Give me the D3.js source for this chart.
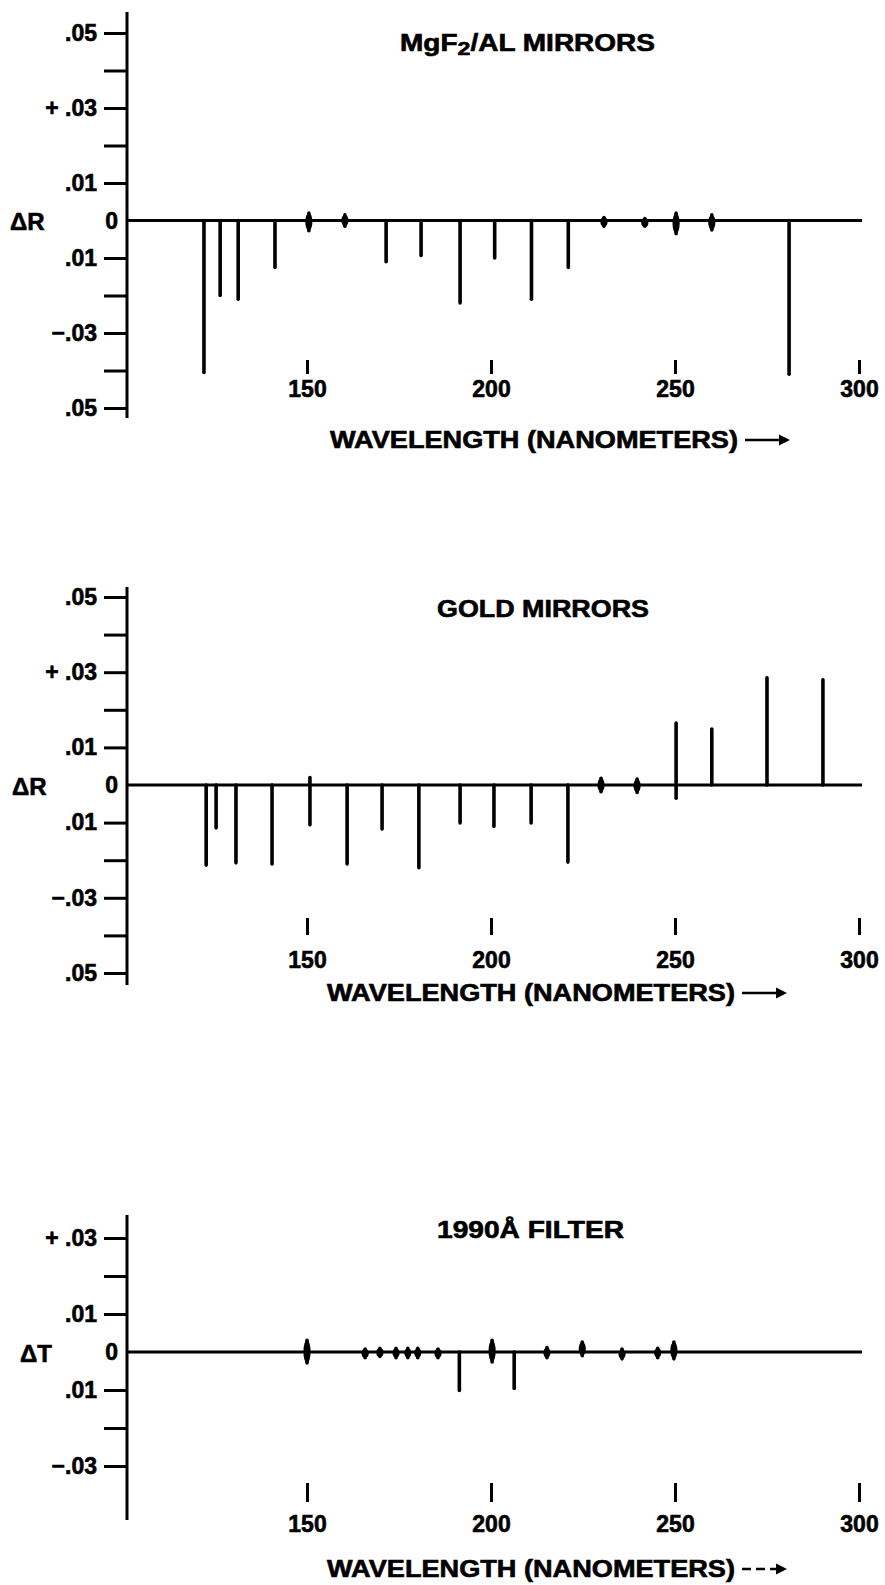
<!DOCTYPE html>
<html>
<head>
<meta charset="utf-8">
<script src="https://cdn.jsdelivr.net/npm/d3@7"></script>
<style>
  body { margin: 0; background: #fff; }
  text { font-family: "Liberation Sans", Arial, sans-serif; font-weight: bold; fill: #000; stroke: #000; stroke-width: 0.6px; }
</style>
</head>
<body>
<svg id="chart" width="885" height="1585"></svg>
<script>
/* ---------- data ---------- */
// MgF2/AL mirrors : wavelength (nm), lower and upper end of each mark (delta R)
const mgWave = [122, 126.4, 131.3, 141.3, 150.5, 160.3, 171.5, 181, 191.6, 201, 211, 221, 230.7, 241.8, 250.3, 260, 281];
const mgLow  = [-0.0405, -0.020, -0.021, -0.0125, -0.0027, -0.0015, -0.011, -0.0093, -0.022, -0.010, -0.021, -0.0125, -0.0015, -0.0015, -0.0035, -0.0025, -0.041];
const mgHigh = [0, 0, 0, 0, 0.002, 0.0015, 0, 0, 0, 0, 0, 0, 0.0008, 0.0005, 0.002, 0.0015, 0];

// gold mirrors
const goldWave = [122.6, 125.3, 130.7, 140.5, 150.8, 160.9, 170.4, 180.4, 191.6, 200.8, 210.9, 220.9, 229.9, 239.7, 250.3, 260, 275, 290.2];
const goldLow  = [-0.0213, -0.0114, -0.0207, -0.021, -0.0106, -0.021, -0.0117, -0.022, -0.0101, -0.011, -0.0101, -0.0205, -0.0018, -0.002, -0.0035, 0, 0, 0];
const goldHigh = [0, 0, 0, 0, 0.002, 0, 0, 0, 0, 0, 0, 0, 0.0018, 0.0016, 0.0165, 0.0149, 0.0285, 0.028];

// 1990A filter (delta T)
const filtWave = [150, 165.8, 169.8, 174.2, 177.4, 180.1, 185.6, 191.4, 200.3, 206.3, 215.2, 224.8, 235.6, 245.3, 249.7];
const filtLow  = [-0.0029, -0.0015, -0.0012, -0.0015, -0.0015, -0.0015, -0.0015, -0.0101, -0.0026, -0.0096, -0.0015, -0.001, -0.0018, -0.0015, -0.0018];
const filtHigh = [0.0031, 0.0008, 0.001, 0.001, 0.001, 0.001, 0.0008, 0, 0.0031, 0, 0.0012, 0.0026, 0.0008, 0.001, 0.0026];

const xTicks = [150, 200, 250, 300];
const rTicks = [0.05, 0.04, 0.03, 0.02, 0.01, -0.01, -0.02, -0.03, -0.04, -0.05];
const rTickLabels = [".05", "", "+ .03", "", ".01", ".01", "", "\u2212.03", "", ".05"];
const tTicks = [0.03, 0.02, 0.01, -0.01, -0.02, -0.03];
const tTickLabels = ["+ .03", "", ".01", ".01", "", "\u2212.03"];

/* ---------- drawing ---------- */
const svg = d3.select("#chart");
const axisX = 127;

const x = d3.scaleLinear().domain([150, 300]).range([307, 859]);

function drawPanel(p) {
  const g = svg.append("g");
  const y = d3.scaleLinear().domain([-p.lim, p.lim]).range([p.yBot, p.yTop]);

  // vertical axis line
  g.append("line")
    .attr("x1", axisX).attr("x2", axisX)
    .attr("y1", p.axisTop).attr("y2", p.axisBot)
    .attr("stroke", "#000").attr("stroke-width", 3);

  const yAxis = d3.axisLeft(y)
    .tickValues(p.ticks)
    .tickSize(23)
    .tickPadding(7)
    .tickFormat((d, i) => p.tickLabels[i]);

  g.append("g")
    .attr("transform", `translate(${axisX},0)`)
    .call(yAxis)
    .call(a => a.select(".domain").remove())
    .call(a => a.selectAll("line").attr("stroke-width", 3))
    .attr("font-size", 23)
    .attr("font-family", null);

  // "0" label and delta label
  g.append("text").attr("x", 118).attr("y", y(0)).attr("dy", "0.36em")
    .attr("text-anchor", "end").attr("font-size", 23).text("0");
  g.append("text").attr("x", p.deltaX).attr("y", y(0)).attr("dy", "0.4em")
    .attr("font-size", 24).text(p.delta);

  // zero line
  g.append("line")
    .attr("x1", axisX).attr("x2", 862)
    .attr("y1", y(0)).attr("y2", y(0))
    .attr("stroke", "#000").attr("stroke-width", 3.2);

  // wavelength ticks
  const xAxis = d3.axisBottom(x).tickValues(xTicks).tickSize(p.xTickLen).tickPadding(p.xPad);
  g.append("g")
    .attr("transform", `translate(0,${p.xTickY})`)
    .call(xAxis)
    .call(a => a.select(".domain").remove())
    .call(a => a.selectAll("line").attr("stroke-width", 3))
    .attr("font-size", 23)
    .attr("font-family", null);

  // marks
  const idx = d3.range(p.wave.length);
  g.append("g").selectAll("line")
    .data(idx)
    .join("line")
    .attr("x1", i => x(p.wave[i])).attr("x2", i => x(p.wave[i]))
    .attr("y1", i => y(p.low[i])).attr("y2", i => y(p.high[i]))
    .attr("stroke", "#000").attr("stroke-width", 3.6)
    .attr("stroke-linecap", "round");

  g.append("g").selectAll("ellipse")
    .data(idx.filter(i => p.high[i] - p.low[i] < 0.007))
    .join("ellipse")
    .attr("cx", i => x(p.wave[i]))
    .attr("cy", i => (y(p.low[i]) + y(p.high[i])) / 2)
    .attr("rx", 3.6)
    .attr("ry", i => Math.max(4.5, (y(p.low[i]) - y(p.high[i])) / 2))
    .attr("fill", "#000");

  // title
  const t = g.append("text")
    .attr("x", p.titleX).attr("y", p.titleY)
    .attr("font-size", 23)
    .attr("textLength", p.titleW).attr("lengthAdjust", "spacingAndGlyphs");
  p.title.forEach(part => {
    const s = t.append("tspan").text(part.t);
    if (part.sub) s.attr("baseline-shift", "-22%").attr("font-size", 19);
  });

  // axis caption + arrow
  g.append("text")
    .attr("x", p.capX).attr("y", p.capY)
    .attr("font-size", 23)
    .attr("textLength", 408).attr("lengthAdjust", "spacingAndGlyphs")
    .text("WAVELENGTH (NANOMETERS)");
  const ay = p.capY - 8;
  const ax0 = p.capX + 415, ax1 = p.capX + 460;
  g.append("line")
    .attr("x1", ax0).attr("x2", ax1 - 6).attr("y1", ay).attr("y2", ay)
    .attr("stroke", "#000").attr("stroke-width", 2.6)
    .attr("stroke-dasharray", p.dashed ? "9,5" : null);
  g.append("path")
    .attr("d", `M${ax1},${ay} L${ax1 - 11},${ay - 5.5} L${ax1 - 11},${ay + 5.5} Z`)
    .attr("fill", "#000");
}

drawPanel({
  wave: mgWave, low: mgLow, high: mgHigh,
  lim: 0.05, yTop: 33, yBot: 408, axisTop: 12, axisBot: 418,
  ticks: rTicks, tickLabels: rTickLabels, delta: "\u0394R", deltaX: 10,
  xTickY: 360, xTickLen: 14, xPad: 7,
  title: [{t: "MgF"}, {t: "2", sub: true}, {t: "/AL MIRRORS"}],
  titleX: 400, titleY: 51, titleW: 255,
  capX: 330, capY: 448, dashed: false
});

drawPanel({
  wave: goldWave, low: goldLow, high: goldHigh,
  lim: 0.05, yTop: 597, yBot: 973, axisTop: 587, axisBot: 985,
  ticks: rTicks, tickLabels: rTickLabels, delta: "\u0394R", deltaX: 12,
  xTickY: 918, xTickLen: 17, xPad: 17,
  title: [{t: "GOLD MIRRORS"}],
  titleX: 437, titleY: 617, titleW: 212,
  capX: 327, capY: 1001, dashed: false
});

drawPanel({
  wave: filtWave, low: filtLow, high: filtHigh,
  lim: 0.03, yTop: 1238, yBot: 1466, axisTop: 1215, axisBot: 1520,
  ticks: tTicks, tickLabels: tTickLabels, delta: "\u0394T", deltaX: 20,
  xTickY: 1483, xTickLen: 19, xPad: 14,
  title: [{t: "1990\u00C5 FILTER"}],
  titleX: 437, titleY: 1238, titleW: 187,
  capX: 327, capY: 1577, dashed: true
});
</script>
</body>
</html>
